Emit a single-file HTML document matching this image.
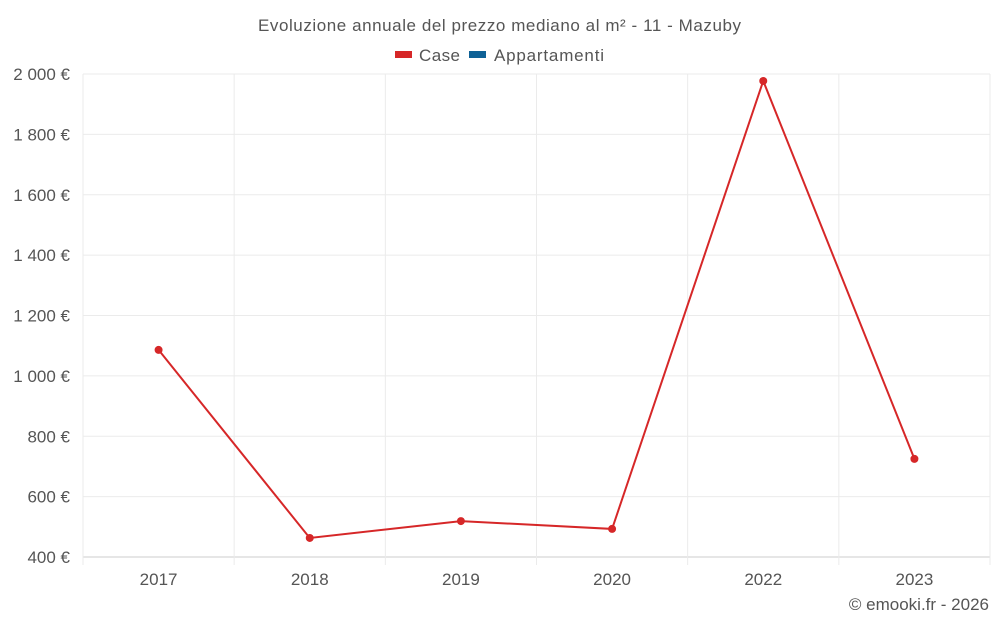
<!DOCTYPE html>
<html><head><meta charset="utf-8"><style>
body{margin:0;background:#fff;font-family:"Liberation Sans",sans-serif;}
svg text{font-family:"Liberation Sans",sans-serif;}
</style></head><body>
<svg id="chart" width="1000" height="625" xmlns="http://www.w3.org/2000/svg">
<text x="258" y="31" font-size="17" fill="#555" textLength="483" lengthAdjust="spacing">Evoluzione annuale del prezzo mediano al m² - 11 - Mazuby</text>
<g><rect x="395" y="51" width="17" height="7" fill="#d62728"/><text x="419" y="61" font-size="17" fill="#555" textLength="41" lengthAdjust="spacing">Case</text></g>
<g><rect x="469" y="51" width="17" height="7" fill="#0e6196"/><text x="494" y="61" font-size="17" fill="#555" textLength="110" lengthAdjust="spacing">Appartamenti</text></g>
<g id="grid"></g>
<g id="axes"></g>
<g id="series"></g>
<text x="989" y="610" text-anchor="end" font-size="17" fill="#555">© emooki.fr - 2026</text>
</svg>
<script>
const categories=["2017","2018","2019","2020","2022","2023"];
const caseValues=[1086,463,519,493,1977,725];
const yTicks=[400,600,800,1000,1200,1400,1600,1800,2000];
const yTickLabels=["400 €","600 €","800 €","1 000 €","1 200 €","1 400 €","1 600 €","1 800 €","2 000 €"];
const L=83,R=990,T=74,B=557,NS="http://www.w3.org/2000/svg";
const band=(R-L)/categories.length;
const x=i=>L+band*(i+0.5);
const y=v=>B-(v-400)/1600*(B-T);
function mk(tag,attrs,parent){const e=document.createElementNS(NS,tag);for(const k in attrs)e.setAttribute(k,attrs[k]);parent.appendChild(e);return e;}
const grid=document.getElementById('grid'),axes=document.getElementById('axes'),ser=document.getElementById('series');
yTicks.forEach((t,i)=>{
 const l=mk('line',{x1:L,x2:R,y1:y(t),y2:y(t),stroke:i==0?'#ccc':'#ebebeb','stroke-width':1},grid);
 
 
 const tx=mk('text',{x:70,y:y(t)+6,'text-anchor':'end','font-size':17,fill:'#555'},axes);
 tx.textContent=yTickLabels[i];
 
 
});
for(let i=0;i<=categories.length;i++){
 const gx=L+band*i;
 const l=mk('line',{x1:gx,x2:gx,y1:T,y2:B+8,stroke:'#ebebeb','stroke-width':1},grid);
 
 
}
categories.forEach((c,i)=>{
 const tx=mk('text',{x:x(i),y:585,'text-anchor':'middle','font-size':17,fill:'#555'},axes);
 tx.textContent=c;
 
 
});
const p=mk('polyline',{points:caseValues.map((v,i)=>x(i)+','+y(v)).join(' '),fill:'none',stroke:'#d62728','stroke-width':2},ser);


caseValues.forEach((v,i)=>{
 const c=mk('circle',{cx:x(i),cy:y(v),r:4,fill:'#d62728'},ser);
 
 
});
</script>
</body></html>
